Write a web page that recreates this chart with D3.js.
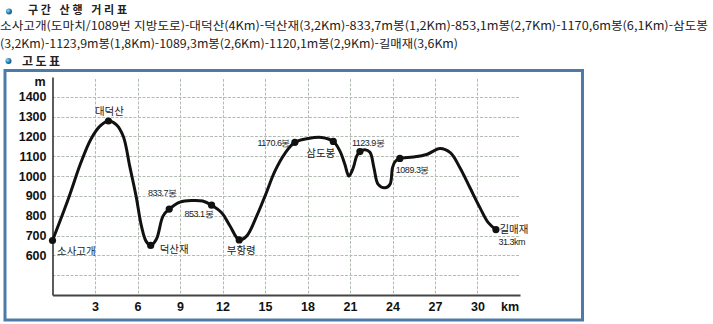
<!DOCTYPE html>
<html lang="ko">
<head>
<meta charset="utf-8">
<script src="https://cdn.jsdelivr.net/npm/d3@7"></script>
<style>
  html, body { margin: 0; padding: 0; background: #fff; }
  svg { display: block; }
</style>
</head>
<body>
<svg id="chart" width="713" height="324"></svg>
<script>
// ---- text ----
const sectionTitle = "구간 산행 거리표";
const routeLines = [
  "소사고개(도마치/1089번 지방도로)-대덕산(4Km)-덕산재(3,2Km)-833,7m봉(1,2Km)-853,1m봉(2,7Km)-1170,6m봉(6,1Km)-삼도봉",
  "(3,2Km)-1123,9m봉(1,8Km)-1089,3m봉(2,6Km)-1120,1m봉(2,9Km)-길매재(3,6Km)"
];
const chartTitle = "고도표";

// ---- axes ----
const elevTicks = [600, 700, 800, 900, 1000, 1100, 1200, 1300, 1400];
const gridElev = [500, 600, 700, 800, 900, 1000, 1100, 1200, 1300, 1400];
const distTicks = [3, 6, 9, 12, 15, 18, 21, 24, 27, 30];

// ---- elevation profile between waypoints (km, m) ----
const profileKm = [1.1, 2.0, 2.7, 3.35, 4.5, 5.0, 5.45, 5.9, 6.27, 6.6, 7.33, 7.8, 9.0, 9.9, 10.6,
  11.94, 12.53, 13.7, 14.41, 15.0, 15.7, 16.41, 18.05, 19.0, 20.29, 20.64, 20.92, 21.23, 21.47,
  22.05, 22.41, 22.69, 22.99, 23.47, 23.82, 24.0, 24.17, 25.46, 26.41, 27.35, 28.08, 28.76,
  29.47, 30.17, 30.76];
const profileElev = [882, 1067, 1185, 1252, 1260, 1200, 1050, 899, 750, 672, 681, 798, 869, 877, 874,
  815, 748, 697, 798, 899, 1025, 1115, 1190, 1195, 1126, 1059, 1000, 1042, 1101,
  1133, 1120, 1042, 958, 941, 958, 1042, 1072, 1096, 1109, 1139, 1118, 1042,
  941, 841, 765];

// ---- marked waypoints ----
const wpNames = ["소사고개", "대덕산", "덕산재", "833.7봉", "853.1봉", "부항령", "1170.6봉", "삼도봉", "1123.9봉", "1089.3봉", "길매재"];
const wpKm =    [0, 3.95, 6.93, 8.24, 11.23, 13.18, 17.11, 19.82, 21.7, 24.52, 31.3];
const wpElev =  [675, 1278, 650, 833.7, 853.1, 678, 1170.6, 1175, 1123.9, 1089.3, 730];
const endNote = "31.3km";

// label placement relative to each waypoint dot
const labelStyle = [
  { anchor: "start",  dx: 4.5, dy: 14.5, size: 10.5, num: false },
  { anchor: "middle", dx: 1,   dy: -5.5, size: 10.5, num: false },
  { anchor: "start",  dx: 9,   dy: 7.5,  size: 10.5, num: false },
  { anchor: "middle", dx: -7,  dy: -13,  size: 9,    num: true },
  { anchor: "end",    dx: 1.5, dy: 12,   size: 9,    num: true },
  { anchor: "middle", dx: 2,   dy: 14,   size: 10.5, num: false },
  { anchor: "end",    dx: -5,  dy: 4,    size: 9,    num: true },
  { anchor: "end",    dx: 2,   dy: 15.5, size: 10.5, num: false },
  { anchor: "start",  dx: -8,  dy: -5.5, size: 9,    num: true },
  { anchor: "start",  dx: -4,  dy: 14.5, size: 9,    num: true },
  { anchor: "start",  dx: 3.5, dy: 3.5,  size: 10.5, num: false }
];

const svg = d3.select("#chart");
const KR = "'Noto Sans CJK KR', 'Noto Sans', sans-serif";
const LAT = "'Liberation Sans', Arial, sans-serif";

// ---- header ----
const defs = svg.append("defs");
const grad = defs.append("radialGradient").attr("id", "bullet").attr("cx", "35%").attr("cy", "35%").attr("r", "70%");
grad.append("stop").attr("offset", "0%").attr("stop-color", "#9fd6ee");
grad.append("stop").attr("offset", "55%").attr("stop-color", "#2a86b8");
grad.append("stop").attr("offset", "100%").attr("stop-color", "#0d4f7a");

svg.append("circle").attr("cx", 9).attr("cy", 11.5).attr("r", 3).attr("fill", "url(#bullet)");
svg.append("text").attr("x", 28).attr("y", 13.5)
  .attr("font-family", KR).attr("font-size", 11).attr("font-weight", 700).attr("fill", "#222")
  .attr("textLength", 99).attr("lengthAdjust", "spacing")
  .text(sectionTitle);

const lineWidths = [708, 458];
svg.selectAll("text.route").data(routeLines).join("text")
  .attr("class", "route")
  .attr("x", 0).attr("y", (d, i) => 30 + i * 18)
  .attr("font-family", KR).attr("font-size", 11.5).attr("fill", "#222")
  .attr("textLength", (d, i) => lineWidths[i]).attr("lengthAdjust", "spacingAndGlyphs")
  .text(d => d);

svg.append("circle").attr("cx", 8.5).attr("cy", 61).attr("r", 3).attr("fill", "url(#bullet)");
svg.append("text").attr("x", 22).attr("y", 65.5)
  .attr("font-family", KR).attr("font-size", 12).attr("font-weight", 700).attr("fill", "#222")
  .attr("textLength", 38).attr("lengthAdjust", "spacing")
  .text(chartTitle);

// ---- frame ----
svg.append("rect").attr("x", 5).attr("y", 70.5).attr("width", 577.5).attr("height", 249.5)
  .attr("fill", "#fff").attr("stroke", "#4d7aa8").attr("stroke-width", 3);

// ---- scales ----
const x = d3.scaleLinear().domain([0, 33]).range([52.5, 520]);
const y = d3.scaleLinear().domain([400, 1500]).range([295, 77]);

// ---- grid ----
const grid = svg.append("g").attr("stroke", "#b3bcb3").attr("stroke-width", 1).attr("stroke-dasharray", "3,1.5");
grid.selectAll("line.h").data(gridElev).join("line")
  .attr("x1", x(0)).attr("x2", x(33))
  .attr("y1", d => Math.round(y(d)) + 0.5).attr("y2", d => Math.round(y(d)) + 0.5);
grid.selectAll("line.v").data(distTicks).join("line")
  .attr("y1", y(1490)).attr("y2", y(400))
  .attr("x1", d => Math.round(x(d)) + 0.5).attr("x2", d => Math.round(x(d)) + 0.5);

// ---- axes ----
const yAxis = svg.append("g").attr("transform", `translate(${x(0)},0)`)
  .call(d3.axisLeft(y).tickValues(elevTicks).tickSize(0).tickPadding(6).tickFormat(d3.format("d")));
yAxis.select(".domain").attr("stroke", "#333").attr("stroke-width", 1.6);
yAxis.selectAll("text").attr("font-family", LAT).attr("font-size", 12.5).attr("font-weight", 700).attr("fill", "#111");

const xAxis = svg.append("g").attr("transform", `translate(0,${y(400)})`)
  .call(d3.axisBottom(x).tickValues(distTicks).tickSize(0).tickPadding(7.5).tickFormat(d3.format("d")));
xAxis.select(".domain").attr("stroke", "#444").attr("stroke-width", 2);
xAxis.selectAll("text").attr("font-family", LAT).attr("font-size", 12.5).attr("font-weight", 700).attr("fill", "#111");

svg.append("text").attr("x", x(0) - 7).attr("y", y(1500) + 9).attr("text-anchor", "end")
  .attr("font-family", LAT).attr("font-size", 12.5).attr("font-weight", 700).attr("fill", "#111").text("m");
svg.append("text").attr("x", 510).attr("y", 311).attr("text-anchor", "middle")
  .attr("font-family", LAT).attr("font-size", 12.5).attr("font-weight", 700).attr("fill", "#111").text("km");

// ---- profile line (passes through every waypoint) ----
const pts = profileKm.map((k, i) => [k, profileElev[i]])
  .concat(wpKm.map((k, i) => [k, wpElev[i]]))
  .sort((a, b) => a[0] - b[0]);

const line = d3.line().x(d => x(d[0])).y(d => y(d[1])).curve(d3.curveCatmullRom.alpha(0.5));
svg.append("path").datum(pts).attr("d", line)
  .attr("fill", "none").attr("stroke", "#111").attr("stroke-width", 3)
  .attr("stroke-linejoin", "round").attr("stroke-linecap", "round");

// ---- waypoint dots and labels ----
const wps = wpNames.map((n, i) => ({ name: n, km: wpKm[i], elev: wpElev[i], st: labelStyle[i] }));
svg.selectAll("circle.wp").data(wps).join("circle")
  .attr("class", "wp")
  .attr("cx", d => x(d.km)).attr("cy", d => y(d.elev)).attr("r", 3.6).attr("fill", "#111");

svg.selectAll("text.wp").data(wps).join("text")
  .attr("class", "wp")
  .attr("x", d => x(d.km) + d.st.dx).attr("y", d => y(d.elev) + d.st.dy)
  .attr("text-anchor", d => d.st.anchor)
  .attr("font-family", d => d.st.num ? LAT : KR)
  .attr("font-size", d => d.st.size)
  .attr("letter-spacing", d => d.st.num ? -0.5 : 0)
  .attr("fill", "#222")
  .text(d => d.name);

const last = wps[wps.length - 1];
svg.append("text").attr("x", x(last.km) + 2.5).attr("y", y(last.elev) + 15.5)
  .attr("font-family", LAT).attr("font-size", 9).attr("letter-spacing", -0.5).attr("fill", "#222")
  .text(endNote);
</script>
</body>
</html>
